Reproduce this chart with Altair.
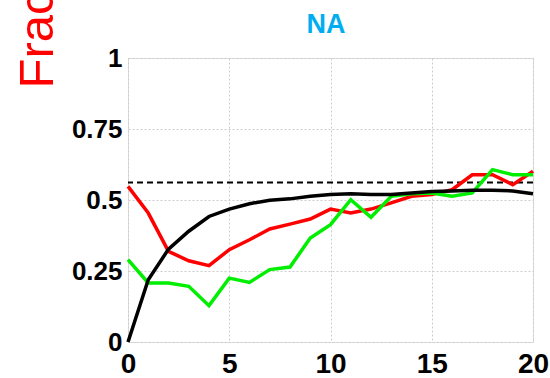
import altair as alt
import pandas as pd

x_vals = list(range(21))
red_vals = [0.548, 0.454, 0.319, 0.286, 0.269, 0.325, 0.360, 0.398, 0.415, 0.433, 0.468,
            0.454, 0.468, 0.490, 0.513, 0.519, 0.536, 0.589, 0.589, 0.554, 0.601]
green_vals = [0.290, 0.208, 0.208, 0.196, 0.128, 0.225, 0.210, 0.255, 0.264, 0.366, 0.413,
              0.501, 0.439, 0.513, 0.522, 0.525, 0.513, 0.525, 0.607, 0.589, 0.589]
black_vals = [0.0, 0.219, 0.327, 0.390, 0.442, 0.468, 0.487, 0.499, 0.504, 0.513, 0.519,
              0.522, 0.519, 0.519, 0.525, 0.530, 0.532, 0.534, 0.534, 0.532, 0.522]
dashed_level = [0.562]
x_ticks = [0, 5, 10, 15, 20]
y_ticks = [0, 0.25, 0.5, 0.75, 1]
panel_title = ["NA"]
y_title = "Fraction"

FONT = "Liberation Sans"

xs = alt.X("x:Q", scale=alt.Scale(domain=[0, 20], nice=False),
           axis=alt.Axis(values=x_ticks, title=None, grid=True, domain=False, tickSize=0,
                         labelFontSize=28, labelFontWeight="bold", labelFont=FONT,
                         labelColor="black", labelPadding=8, labelFlush=False,
                         gridDash=[2, 2], gridColor="#cccccc"))
ys = alt.Y("y:Q", scale=alt.Scale(domain=[0, 1], nice=False),
           axis=alt.Axis(values=y_ticks, labelExpr="datum.value + ''", title=y_title,
                         grid=True, domain=False, tickSize=0,
                         labelFontSize=26, labelFontWeight="bold", labelFont=FONT,
                         labelColor="black", labelPadding=6, labelFlush=False,
                         gridDash=[2, 2], gridColor="#cccccc",
                         titleAngle=270, titleAlign="left", titleBaseline="alphabetic",
                         titleX=-76, titleY=30, titleColor="#ff0000", titleFontSize=49,
                         titleFontWeight="normal", titleFont=FONT))

def series(vals):
    return pd.DataFrame({"x": x_vals, "y": vals})

dash = alt.Chart(pd.DataFrame({"y": dashed_level})).mark_rule(
    color="black", strokeWidth=2, strokeDash=[6, 4]).encode(y=ys)
red = alt.Chart(series(red_vals)).mark_line(color="#ff0000", strokeWidth=3.5).encode(x=xs, y=ys)
green = alt.Chart(series(green_vals)).mark_line(color="#00ee00", strokeWidth=3.5).encode(x=xs, y=ys)
black = alt.Chart(series(black_vals)).mark_line(color="black", strokeWidth=3.5).encode(x=xs, y=ys)
title = alt.Chart(pd.DataFrame({"t": panel_title})).mark_text(
    color="#00aeef", fontSize=27, fontWeight="bold", font=FONT,
    align="center", baseline="alphabetic").encode(
    text="t:N", x=alt.value(198), y=alt.value(-25))

chart = alt.layer(dash, red, green, black, title).properties(
    width=405, height=284,
    autosize=alt.AutoSizeParams(type="none"),
    padding={"left": 128, "top": 58, "right": 17, "bottom": 36},
).configure_view(stroke="#8a8a8a", strokeWidth=1).configure(background="white")

chart.save("out.html", embed_options={"renderer": "svg", "actions": False})
